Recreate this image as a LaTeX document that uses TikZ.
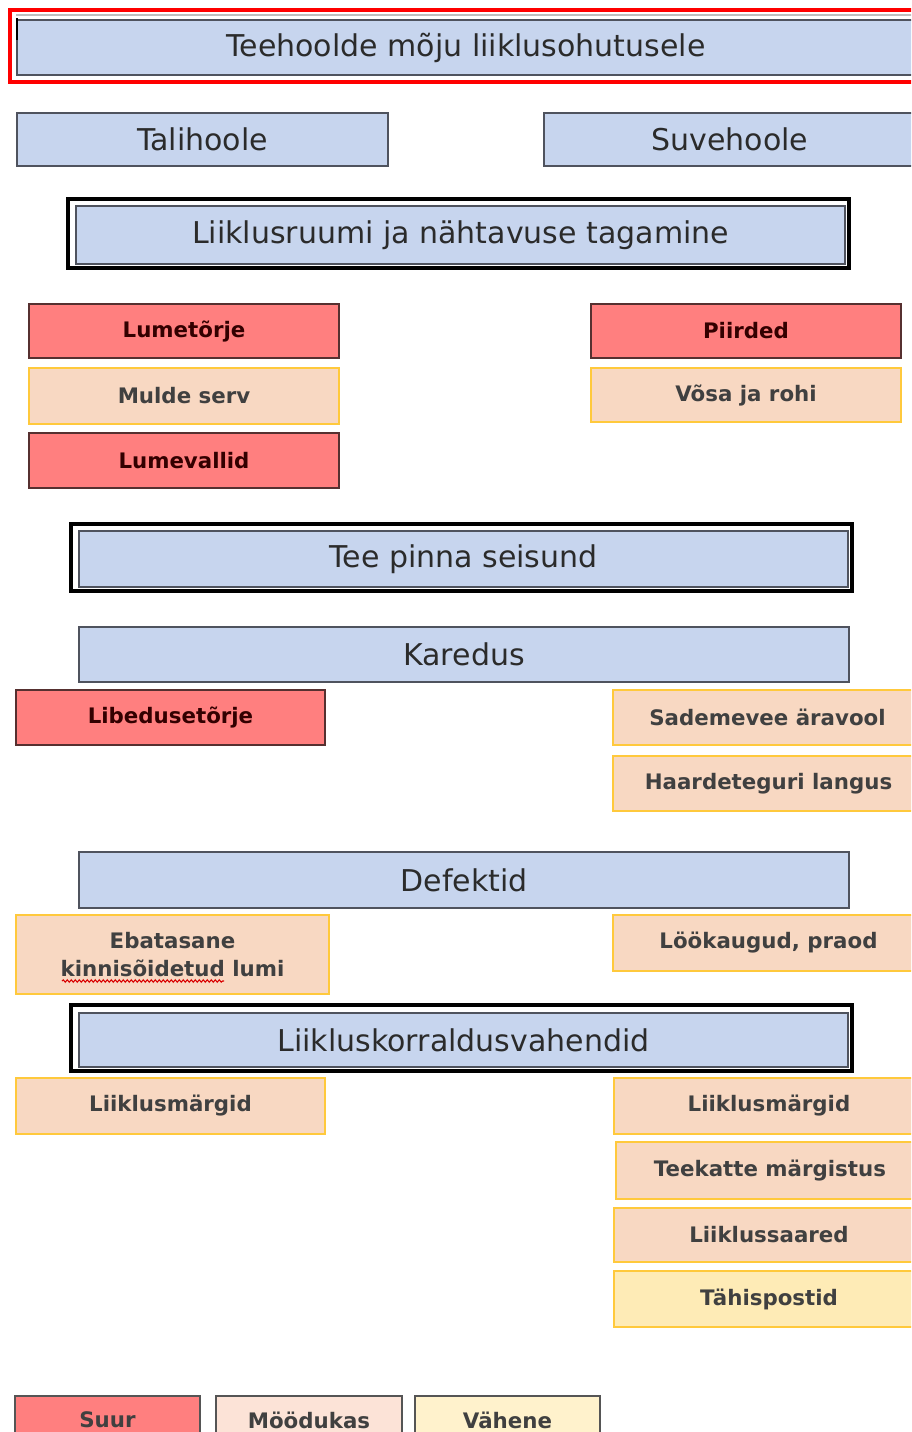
\documentclass[tikz,border=0pt]{standalone}
\usepackage{fontspec}
\setmainfont{DejaVu Sans}
\usetikzlibrary{decorations.pathmorphing}
\definecolor{blueF}{HTML}{C7D5EE}
\definecolor{blueD}{HTML}{4F535E}
\definecolor{redF}{HTML}{FF7F7F}
\definecolor{redD}{HTML}{563030}
\definecolor{peachF}{HTML}{F8D8C2}
\definecolor{yelB}{HTML}{FFC93C}
\definecolor{lyF}{HTML}{FEEBB6}
\definecolor{legM}{HTML}{FCE3D7}
\definecolor{legV}{HTML}{FFF2CC}
\definecolor{legD}{HTML}{555555}
\definecolor{txt}{HTML}{2B2B2B}
\tikzset{
  basebox/.style={inner sep=0pt, outer sep=0pt, align=center, text=txt},
  bluebox/.style={basebox, fill=blueF, draw=blueD, line width=1.8pt, font=\fontsize{22.5}{26}\selectfont},
  smallfont/.style={font=\bfseries\fontsize{16}{21}\selectfont},
  redbox/.style={basebox, smallfont, fill=redF, draw=redD, line width=1.6pt, text=black!80!red},
  peachbox/.style={basebox, smallfont, fill=peachF, draw=yelB, line width=1.8pt, text=black!75},
  lybox/.style={peachbox, fill=lyF},
  legbox/.style={basebox, smallfont, draw=legD, line width=1.8pt, text=black!75},
  blackframe/.style={basebox, draw=black, line width=3pt},
  redframe/.style={basebox, draw=red, line width=3.4pt}
}
% \mybox{style}{x1}{y1}{x2}{y2}{name}{text}
\newcommand\mybox[7]{\node[#1, minimum width={(#4-#2)*0.75pt}, minimum height={(#5-#3)*0.75pt}] (#6) at ({(#2+#4)/2},{(#3+#5)/2}) {#7};}
\begin{document}
\begin{tikzpicture}[x=0.75pt,y=-0.75pt]
\useasboundingbox (0,0) rectangle (911,1432);
\clip (0,0) rectangle (911,1432);
\fill[white] (0,0) rectangle (911,1432);

% title
\mybox{redframe}{10}{10}{940}{82}{titleframe}{}
\draw[black!25, line width=1.2pt] (16,15) -- (930,15);
\mybox{bluebox}{17}{20}{915}{75}{title}{Teehoolde mõju liiklusohutusele}
\draw[black, line width=1.5pt] (17,18) -- (17,40);

\mybox{bluebox}{17}{113}{388}{166}{tali}{Talihoole}
\mybox{bluebox}{544}{113}{916}{166}{suve}{Suvehoole}

% Liiklusruumi
\mybox{blackframe}{68}{199}{849}{268}{f1}{}
\mybox{bluebox}{76}{206}{845}{264}{ruum}{Liiklusruumi ja nähtavuse tagamine}

\mybox{redbox}{29}{304}{339}{358}{lume}{Lumetõrje}
\mybox{peachbox}{29}{368}{339}{424}{mulde}{Mulde serv}
\mybox{redbox}{29}{433}{339}{488}{lumev}{Lumevallid}
\mybox{redbox}{591}{304}{901}{358}{piir}{Piirded}
\mybox{peachbox}{591}{368}{901}{422}{vosa}{Võsa ja rohi}

% Tee pinna seisund
\mybox{blackframe}{71}{524}{852}{591}{f2}{}
\mybox{bluebox}{79}{531}{848}{587}{pind}{Tee pinna seisund}

\mybox{bluebox}{79}{627}{849}{682}{kared}{Karedus}
\mybox{redbox}{16}{690}{325}{745}{libe}{Libedusetõrje}
\mybox{peachbox}{613}{690}{922}{745}{sade}{Sademevee äravool}
\mybox{peachbox}{613}{756}{924}{811}{haarde}{Haardeteguri langus}

\mybox{bluebox}{79}{852}{849}{908}{def}{Defektid}
\mybox{peachbox}{16}{915}{329}{994}{ebat}{Ebatasane\\kinnisõidetud lumi}
\mybox{peachbox}{613}{915}{924}{971}{look}{Löökaugud, praod}
\coordinate (sqA) at (62,981);
\coordinate (sqB) at (224,981);
\draw[red!85!black, line width=0.8pt, decorate, decoration={snake, amplitude=0.9pt, segment length=3pt}] (sqA) -- (sqB);

% Liikluskorraldusvahendid
\mybox{blackframe}{71}{1005}{852}{1071}{f3}{}
\mybox{bluebox}{79}{1013}{848}{1067}{lkv}{Liikluskorraldusvahendid}

\mybox{peachbox}{16}{1078}{325}{1134}{lmL}{\raisebox{3pt}{Liiklusmärgid}}
\mybox{peachbox}{614}{1078}{924}{1134}{lmR}{\raisebox{3pt}{Liiklusmärgid}}
\mybox{peachbox}{616}{1142}{924}{1199}{teek}{Teekatte märgistus}
\mybox{peachbox}{614}{1208}{924}{1262}{saar}{Liiklussaared}
\mybox{lybox}{614}{1271}{924}{1327}{tahis}{Tähispostid}

% legend
\mybox{legbox, fill=redF}{15}{1396}{200}{1444}{suur}{\raisebox{-4pt}{Suur}}
\mybox{legbox, fill=legM}{216}{1396}{402}{1444}{mood}{\raisebox{-4pt}{Möödukas}}
\mybox{legbox, fill=legV}{415}{1396}{600}{1444}{vahe}{\raisebox{-4pt}{Vähene}}
\end{tikzpicture}
\end{document}
